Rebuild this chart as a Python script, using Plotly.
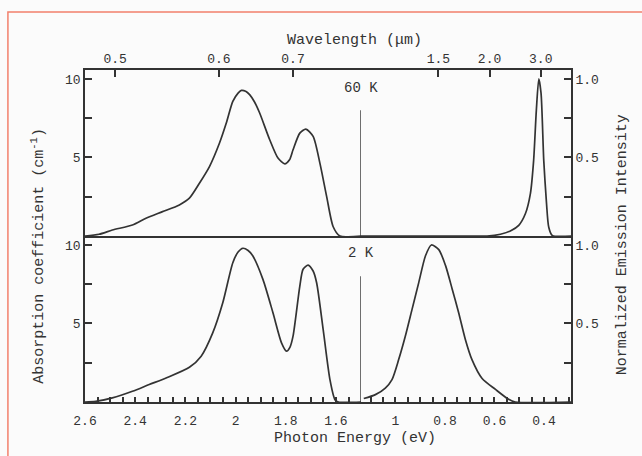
import plotly.graph_objects as go

# ---------------- data ----------------
# 60 K absorption (left segment, photon energy eV -> absorption coefficient)
abs60_E = [2.60, 2.544, 2.491, 2.411, 2.357, 2.291, 2.224, 2.184, 2.144, 2.104, 2.064, 2.037,
           2.011, 1.99, 1.977, 1.96, 1.944, 1.925, 1.904, 1.864, 1.831, 1.804, 1.785, 1.771,
           1.744, 1.72, 1.691, 1.664, 1.637, 1.611, 1.584, 1.50]
abs60_v = [0.0, 0.11, 0.38, 0.70, 1.13, 1.55, 1.98, 2.41, 3.36, 4.42, 5.92, 7.19,
           8.57, 9.10, 9.27, 9.22, 9.0, 8.55, 7.83, 6.13, 4.96, 4.59, 4.85, 5.49,
           6.55, 6.81, 6.34, 4.64, 2.51, 0.59, 0.0, 0.0]

# 2 K absorption
abs2_E = [2.60, 2.557, 2.491, 2.411, 2.344, 2.277, 2.184, 2.137, 2.091, 2.051, 2.011, 1.99,
          1.971, 1.95, 1.931, 1.891, 1.851, 1.817, 1.797, 1.783, 1.771, 1.744, 1.731, 1.711,
          1.691, 1.677, 1.651, 1.624, 1.604, 1.59, 1.50]
abs2_v = [0.0, 0.04, 0.26, 0.68, 1.11, 1.53, 2.21, 2.92, 4.40, 6.32, 8.87, 9.55,
          9.79, 9.65, 9.30, 7.81, 5.68, 3.77, 3.24, 3.50, 4.19, 7.38, 8.45, 8.72,
          8.34, 7.59, 4.62, 1.43, 0.15, 0.0, 0.0]

# 60 K normalized emission (right segment)
em60_E = [1.14, 0.70, 0.630, 0.576, 0.536, 0.502, 0.475, 0.455, 0.442, 0.431, 0.421, 0.412,
          0.401, 0.390, 0.381, 0.367, 0.29]
em60_v = [0.0, 0.0, 0.0, 0.011, 0.032, 0.068, 0.143, 0.27, 0.48, 0.80, 1.0, 0.91,
          0.48, 0.21, 0.057, 0.004, 0.0]

# 2 K normalized emission
em2_E = [1.128, 1.081, 1.041, 1.014, 0.987, 0.960, 0.933, 0.906, 0.879, 0.855, 0.825, 0.798,
         0.771, 0.745, 0.718, 0.691, 0.650, 0.596, 0.543, 0.516, 0.29]
em2_v = [0.022, 0.047, 0.089, 0.143, 0.27, 0.42, 0.59, 0.76, 0.93, 1.00, 0.97, 0.87,
         0.72, 0.57, 0.40, 0.27, 0.15, 0.08, 0.017, 0.0, 0.0]

# axis ticks
left_E_ticks = [round(2.6 - 0.05 * i, 2) for i in range(22)]      # 2.6 ... 1.55
right_E_ticks = [round(1.1 - 0.05 * i, 2) for i in range(17)]     # 1.1 ... 0.3
major_left = {2.6: "2.6", 2.4: "2.4", 2.2: "2.2", 2.0: "2", 1.8: "1.8", 1.6: "1.6"}
major_right = {1.0: "1", 0.8: "0.8", 0.6: "0.6", 0.4: "0.4"}
abs_ticks = [2.5, 5, 7.5, 10]
abs_text = ["", "5", "", "10"]
em_ticks = [0.25, 0.5, 0.75, 1.0]
em_text = ["", "0.5", "", "1.0"]
wl_left = [0.5, 0.6, 0.7]
wl_right = [1.5, 2.0, 3.0]
hc = 1.2398  # eV*um

# ---------------- styling ----------------
INK = "#333333"
FONT = "Liberation Mono"
LEFT_RANGE = [2.6, 1.5]
RIGHT_RANGE = [1.139, 0.291]
FL = 0.568
YMAX = 10.57

fig = go.Figure()
line = dict(color=INK, width=1.7, shape="spline", smoothing=0.7)
fig.add_trace(go.Scatter(x=abs60_E, y=abs60_v, xaxis="x3", yaxis="y", mode="lines", line=line))
fig.add_trace(go.Scatter(x=abs2_E, y=abs2_v, xaxis="x", yaxis="y2", mode="lines", line=line))
fig.add_trace(go.Scatter(x=em60_E, y=em60_v, xaxis="x4", yaxis="y3", mode="lines", line=line))
fig.add_trace(go.Scatter(x=em2_E, y=em2_v, xaxis="x2", yaxis="y4", mode="lines", line=line))

axfont = dict(family=FONT, size=13, color=INK)
common = dict(showline=True, linecolor=INK, linewidth=1.6, showgrid=False, zeroline=False,
              ticks="inside", ticklen=7, tickcolor=INK, tickwidth=1.6, tickfont=axfont)

fig.update_layout(
    width=642, height=456,
    margin=dict(l=85, r=71, t=70, b=54),
    paper_bgcolor="#fbfbfb", plot_bgcolor="#fbfbfb",
    showlegend=False,
    # bottom panel x axes (photon energy)
    xaxis=dict(common, domain=[0, FL], range=LEFT_RANGE, anchor="y2", ticklen=5,
               tickvals=left_E_ticks, ticktext=[major_left.get(v, "") for v in left_E_ticks],
               ticklabelstandoff=6),
    xaxis2=dict(common, domain=[FL, 1], range=RIGHT_RANGE, anchor="y4", ticklen=5,
                tickvals=right_E_ticks, ticktext=[major_right.get(v, "") for v in right_E_ticks],
                ticklabelstandoff=6),
    # top panel x axes (wavelength ticks on top)
    xaxis3=dict(common, domain=[0, FL], range=LEFT_RANGE, anchor="y", side="top", mirror=True,
                tickvals=[hc / w for w in wl_left], ticktext=[f"{w:.1f}" for w in wl_left]),
    xaxis4=dict(common, domain=[FL, 1], range=RIGHT_RANGE, anchor="y3", side="top", mirror=True,
                tickvals=[hc / w for w in wl_right], ticktext=[f"{w:.1f}" for w in wl_right]),
    yaxis=dict(common, domain=[0.5, 1], range=[0, YMAX], anchor="x3",
               tickvals=abs_ticks, ticktext=abs_text),
    yaxis2=dict(common, domain=[0, 0.5], range=[0, YMAX], anchor="x",
                tickvals=abs_ticks, ticktext=abs_text),
    yaxis3=dict(common, domain=[0.5, 1], range=[0, YMAX / 10], anchor="x4", side="right",
                tickvals=em_ticks, ticktext=em_text),
    yaxis4=dict(common, domain=[0, 0.5], range=[0, YMAX / 10], anchor="x2", side="right",
                tickvals=em_ticks, ticktext=em_text),
)

# break markers at 1.5 eV
fig.add_shape(type="line", xref="x3", yref="y", x0=1.5, x1=1.5, y0=0, y1=8.0,
              line=dict(color=INK, width=1.5))
fig.add_shape(type="line", xref="x", yref="y2", x0=1.5, x1=1.5, y0=0, y1=8.0,
              line=dict(color=INK, width=1.5))

# red frame of the scanned figure
fig.add_shape(type="rect", xref="paper", yref="paper", x0=-0.1586, x1=1.3, y0=-0.4, y1=1.175,
              line=dict(color="#f2806c", width=1.5))

tfont = dict(family=FONT, size=15, color=INK)
fig.add_annotation(text="Wavelength (μm)", xref="paper", yref="paper", x=0.555, y=1.09,
                   xanchor="center", yanchor="middle", showarrow=False, font=tfont)
fig.add_annotation(text="Photon Energy (eV)", xref="paper", yref="paper", x=0.555, y=-0.109,
                   xanchor="center", yanchor="middle", showarrow=False, font=tfont)
fig.add_annotation(text="Absorption coefficient (cm<sup>-1</sup>)", xref="paper", yref="paper",
                   x=-0.097, y=0.44, textangle=-90, xanchor="center", yanchor="middle",
                   showarrow=False, font=tfont)
fig.add_annotation(text="Normalized Emission Intensity", xref="paper", yref="paper",
                   x=1.105, y=0.472, textangle=-90, xanchor="center", yanchor="middle",
                   showarrow=False, font=tfont)
fig.add_annotation(text="60 K", xref="x3", yref="y", x=1.5, y=9.43, showarrow=False,
                   font=dict(family=FONT, size=14, color=INK))
fig.add_annotation(text="2 K", xref="x", yref="y2", x=1.5, y=9.49, showarrow=False,
                   font=dict(family=FONT, size=14, color=INK))

fig.write_html("out.html")
